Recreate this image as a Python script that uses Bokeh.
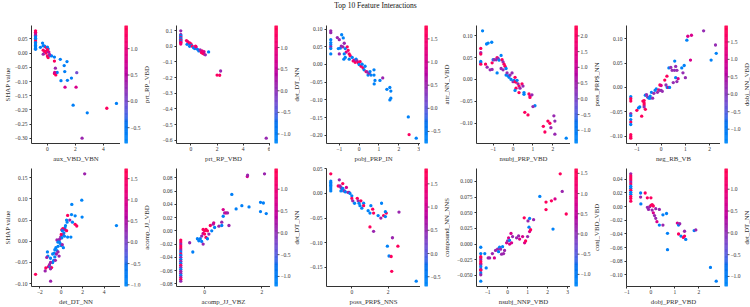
import math
import numpy as np
from bokeh.plotting import figure
from bokeh.models import (ColumnDataSource, LinearColorMapper, FixedTicker,
                          CustomJSTickFormatter, Range1d)
from bokeh.layouts import row, column
from bokeh.core.properties import value
from bokeh.embed import file_html
from bokeh.resources import INLINE

TITLE = "Top 10 Feature Interactions"

# (feature value, SHAP / interaction value, colouring feature value) per panel
P1 = [(-0.85, 0.078, 1.3), (-0.85, 0.073, 1.3), (-0.85, 0.067, 0.8), (-0.85, 0.062, 0.3),
      (-0.85, 0.057, -0.6), (-0.85, 0.052, -0.6), (-0.85, 0.047, -0.6), (-0.85, 0.042, 1.3),
      (-0.85, 0.037, -0.6), (-0.85, 0.032, -0.6), (-0.85, 0.027, -0.6), (-0.85, 0.022, -0.6),
      (-0.85, 0.017, -0.6), (-0.85, 0.013, -0.6),
      (-0.35, 0.035, -0.6), (-0.50, 0.020, -0.6), (-0.30, 0.026, -0.6), (-0.20, 0.024, -0.6),
      (-0.10, 0.020, 1.3), (0.00, 0.021, -0.6), (0.05, 0.015, -0.6), (-0.30, 0.010, 1.3),
      (-0.20, 0.005, 1.3), (-0.10, 0.000, 1.3), (0.00, 0.006, -0.6), (-0.30, -0.004, 0.3),
      (-0.12, 0.006, 1.3), (0.10, 0.004, 0.8), (0.00, -0.010, 1.3), (0.05, -0.016, 1.3),
      (0.20, -0.009, -0.6), (0.30, -0.010, -0.6), (0.50, -0.014, -0.6), (0.00, 0.012, 1.3),
      (0.15, -0.005, 0.3),
      (0.50, -0.028, 1.3), (0.92, -0.022, -0.6), (1.20, -0.044, -0.6), (1.40, -0.030, -0.6),
      (0.57, -0.053, 0.3), (0.50, -0.072, 1.3), (0.60, -0.077, 1.3), (0.70, -0.068, -0.6),
      (0.52, -0.068, 0.8), (1.24, -0.065, -0.6), (2.10, -0.069, 0.0), (1.72, -0.088, -0.6),
      (0.97, -0.097, -0.6), (1.43, -0.096, -0.6), (1.26, -0.120, 0.8), (2.05, -0.120, 0.8),
      (1.84, -0.183, -0.6), (2.85, -0.210, -0.6), (4.25, -0.194, 1.3), (4.94, -0.177, -0.6),
      (2.48, -0.299, 0.3)]

P2 = [(-0.78, 0.098, 0.1), (-0.78, 0.075, 0.1), (-0.78, 0.068, -1.0), (-0.78, 0.062, -1.0),
      (-0.78, 0.056, 1.0), (-0.78, 0.050, -1.0), (-0.78, 0.044, -1.0), (-0.78, 0.038, 1.3),
      (-0.78, 0.032, -1.0), (-0.78, 0.026, 1.0), (-0.78, 0.020, 1.3), (-0.78, 0.014, 1.0),
      (-0.34, 0.036, 1.3), (-0.25, 0.030, 1.0), (-0.20, 0.020, 1.3), (-0.30, 0.012, -1.0),
      (-0.10, 0.021, 1.3), (-0.05, 0.010, -1.0), (0.00, 0.015, 1.3), (0.05, 0.005, -1.0),
      (-0.10, 0.000, -1.0), (0.10, 0.000, 1.3), (0.20, -0.010, -1.0), (0.30, -0.015, -1.0),
      (0.35, 0.001, 1.3), (0.40, -0.005, 1.0), (0.50, -0.020, -1.0), (0.60, -0.030, -1.0),
      (0.70, -0.024, 0.1), (0.80, -0.040, 1.3), (0.90, -0.045, 1.3), (1.00, -0.050, 1.3),
      (1.00, -0.035, 0.7), (1.10, -0.055, 0.1), (0.85, -0.030, 1.0), (1.35, -0.036, -1.0),
      (2.00, -0.184, 1.3), (2.20, -0.185, 1.3), (2.27, -0.158, 0.1), (5.76, -0.586, 0.1)]

P3 = [(-1.43, 0.095, 0.5), (-1.43, 0.090, 0.5), (-1.43, 0.070, -0.6), (-1.43, 0.062, -0.6),
      (-1.43, 0.056, -0.6), (-1.43, 0.050, 0.5), (-1.43, 0.045, -0.6), (-1.43, 0.030, -0.6),
      (-1.10, 0.076, 0.5), (-1.00, 0.070, 0.5), (-0.88, 0.084, -0.6), (-0.80, 0.075, -0.6),
      (-1.05, 0.045, -0.6), (-0.95, 0.046, -0.6), (-0.90, 0.052, 0.5), (-0.75, 0.060, 0.5),
      (-0.82, 0.050, 0.5), (-0.70, 0.045, -0.6), (-0.60, 0.050, 1.6), (-0.55, 0.040, 1.6),
      (-0.65, 0.035, 1.1), (-1.00, 0.030, 0.5), (-0.75, 0.030, -0.6), (-0.70, 0.020, -0.6),
      (-0.77, 0.015, -0.6), (-0.50, 0.030, 1.6), (-0.45, 0.025, 1.6), (-0.50, 0.015, -0.6),
      (-0.35, 0.020, -0.6), (-0.30, 0.010, 1.6), (-0.25, 0.012, 1.1), (-0.20, 0.006, 1.6),
      (-0.15, 0.015, -0.6), (-0.10, 0.010, 0.5), (-0.05, 0.005, 1.6), (0.00, 0.000, -0.6),
      (0.05, 0.008, 1.6), (0.10, -0.005, 1.6), (0.15, 0.001, -0.6), (0.20, -0.010, 1.6),
      (0.25, -0.015, -0.6), (0.30, -0.005, -0.6), (0.35, -0.020, 1.6), (0.40, -0.021, 0.5),
      (0.45, -0.030, -0.6), (0.50, -0.025, 0.5), (0.55, -0.020, -0.6), (0.60, -0.030, -0.6),
      (0.75, -0.015, -0.6), (0.75, -0.030, -0.6), (0.80, -0.045, -0.6), (0.76, -0.055, -0.6),
      (1.05, -0.045, -0.6), (1.19, -0.038, 0.5), (1.40, -0.070, -0.6), (1.55, -0.065, -0.6),
      (1.60, -0.075, -0.6), (1.55, -0.100, -0.6), (1.60, -0.095, -0.6), (2.48, -0.148, -0.6),
      (2.52, -0.198, 1.6), (2.88, -0.208, -0.6)]

P4 = [(-1.53, 0.111, -1.2), (-1.33, 0.081, -1.2), (-1.25, 0.083, -1.2), (-1.07, 0.085, -1.2),
      (-1.62, 0.071, 2.1), (-1.62, 0.061, 0.4), (-1.62, 0.058, 2.1), (-1.62, 0.041, -1.2),
      (-1.62, 0.038, -1.2), (-1.62, 0.035, 2.1),
      (-1.38, 0.035, 2.1), (-1.30, 0.028, 0.4), (-1.15, 0.022, 0.4), (-1.05, 0.023, 0.4),
      (-1.05, 0.038, 2.1), (-1.00, 0.045, -1.2), (-0.95, 0.045, 0.4), (-0.80, 0.050, 2.1),
      (-0.85, 0.045, 0.4), (-0.75, 0.048, 0.4), (-0.70, 0.044, -1.2), (-0.80, 0.015, -1.2),
      (-0.60, 0.055, -1.2), (-0.55, 0.045, 2.1), (-0.60, 0.025, 0.4), (-0.50, 0.022, 0.4),
      (-0.50, 0.040, 0.4), (-0.45, 0.035, 2.1), (-0.40, 0.030, 2.1), (-0.35, 0.025, -1.2),
      (-0.35, 0.010, -1.2), (-0.30, 0.015, 0.4), (-0.25, 0.008, -1.2), (-0.20, 0.005, -1.2),
      (-0.15, 0.010, 0.4), (-0.10, 0.000, -1.2), (-0.05, 0.015, 0.4), (0.00, -0.005, 0.4),
      (0.05, -0.002, -1.2), (0.10, -0.005, 2.1), (0.15, -0.006, 2.1), (0.10, 0.005, 2.1),
      (0.20, -0.002, -1.2), (0.25, -0.010, 0.4), (0.15, -0.020, 2.1), (0.10, -0.025, -1.2),
      (0.30, -0.015, 2.1), (0.30, -0.030, 2.1), (0.35, -0.020, 0.4), (0.45, -0.010, 2.1),
      (0.50, -0.015, 0.4), (0.55, -0.030, -1.2), (0.55, -0.034, -1.2), (0.80, -0.033, 2.1),
      (0.85, -0.038, 1.2), (0.85, -0.041, 2.1), (0.95, -0.035, 0.4), (1.10, -0.060, -1.2),
      (1.00, -0.062, 0.4), (0.59, -0.075, 2.1), (0.75, -0.081, 2.1), (1.52, -0.107, 2.1),
      (1.60, -0.120, 2.1), (1.75, -0.095, 2.1), (1.85, -0.100, 2.1), (1.90, -0.110, 0.4),
      (2.05, -0.083, 0.4), (2.10, -0.095, 0.4), (2.10, -0.125, 0.4), (2.67, -0.134, -1.2)]

P5 = [(-1.25, -0.019, -1.2), (-1.25, -0.023, 1.8), (-1.25, -0.028, 1.8), (-1.25, -0.054, 0.2),
      (-1.25, -0.058, -1.2), (-1.25, -0.066, -1.2), (-1.25, -0.071, 1.8), (-1.25, -0.076, -1.2),
      (-1.25, -0.097, 1.8), (-1.25, -0.101, 1.8), (-1.25, -0.104, 1.8),
      (-0.93, -0.042, -1.2), (-0.88, -0.040, -1.2), (-1.00, -0.047, 1.8), (-0.80, -0.059, 1.8),
      (-0.75, -0.028, 1.8), (-0.70, -0.027, 1.8), (-0.70, -0.032, 1.8), (-0.70, -0.036, 1.8),
      (-0.70, -0.040, 0.2), (-0.65, -0.045, 1.8), (-0.65, -0.016, -1.2), (-0.60, -0.015, 0.2),
      (-0.55, -0.020, 0.2), (-0.50, -0.022, -1.2), (-0.45, -0.022, -1.2), (-0.45, -0.018, -1.2),
      (-0.40, -0.010, -1.2), (-0.35, -0.022, 0.2), (-0.30, -0.012, 0.2), (-0.25, -0.006, -1.2),
      (-0.20, -0.003, -1.2), (-0.15, -0.010, 0.2), (-0.10, -0.005, 1.8), (-0.05, 0.005, 1.8),
      (0.00, 0.004, 1.0), (-0.05, -0.006, 0.2), (0.00, -0.006, 0.2), (0.05, -0.008, 0.2),
      (0.15, 0.015, 1.8), (0.20, 0.005, 0.2), (0.25, 0.000, -1.2), (0.24, 0.023, 1.8),
      (0.30, 0.000, 1.0), (0.35, 0.000, -1.2), (0.32, 0.040, -1.2), (0.40, 0.041, 0.2),
      (0.45, 0.035, 0.2), (0.50, 0.010, 0.2), (0.56, 0.054, -1.2), (0.55, 0.035, 0.2),
      (0.60, 0.043, 0.2), (0.65, 0.035, 0.2), (0.60, 0.020, -1.2), (0.65, 0.012, 0.2),
      (0.70, 0.018, 1.0), (0.85, 0.040, -1.2), (0.90, 0.030, 0.2), (0.95, 0.045, -1.2),
      (1.00, 0.020, 0.2), (1.06, 0.097, -1.2), (1.10, 0.105, 1.0), (1.25, 0.107, 1.0),
      (1.21, 0.056, 1.0), (1.75, 0.116, 0.2), (2.24, 0.087, 0.2), (2.27, 0.070, -1.2),
      (2.06, 0.056, -1.2)]

P6 = [(2.19, 0.159, 0.35), (0.99, 0.087, -0.9), (1.92, 0.097, -0.9), (0.96, 0.063, -0.9),
      (1.30, 0.060, -0.9), (1.95, 0.057, -0.9), (0.60, 0.061, 1.6), (0.80, 0.050, 0.35),
      (0.50, 0.050, -0.9), (1.30, 0.040, 1.6), (1.45, 0.036, 1.6), (1.05, 0.045, -0.9),
      (0.55, 0.045, -0.9), (0.40, 0.037, -0.9), (0.35, 0.032, -0.9), (0.30, 0.028, 0.35),
      (0.15, 0.030, 1.6), (0.05, 0.027, 1.0), (0.10, 0.025, -0.9), (0.25, 0.020, -0.9),
      (0.50, 0.025, 1.6), (0.20, 0.015, 0.35), (0.10, 0.015, -0.9), (0.00, 0.016, 1.6),
      (-0.05, 0.010, 0.35), (0.05, 0.008, -0.9), (0.30, 0.012, -0.9), (0.60, 0.010, -0.9),
      (0.90, 0.010, -0.9), (-0.40, 0.003, 0.35), (-0.30, -0.002, -0.9), (-0.20, 0.000, -0.9),
      (-0.15, 0.005, 0.35), (-0.10, -0.005, -0.9), (0.00, -0.010, -0.9), (0.10, -0.008, 0.35),
      (0.20, -0.015, -0.9), (-0.30, -0.012, -0.9), (-0.50, -0.015, -0.9), (-0.60, -0.020, -0.9),
      (-0.40, -0.022, -0.9), (-0.80, -0.030, -0.9), (-0.65, -0.028, -0.9), (-0.45, -0.030, 0.35),
      (-0.30, -0.025, 0.35), (-0.20, -0.035, 0.35), (-1.29, -0.025, -0.9), (-1.25, -0.035, -0.9),
      (-1.35, -0.038, 0.35), (-1.00, -0.040, -0.9), (-0.70, -0.045, -0.9), (-0.55, -0.045, 0.35),
      (-0.60, -0.037, -0.9), (-0.80, -0.050, -0.9), (-1.00, -0.050, 0.35), (-1.20, -0.060, 1.0),
      (-1.05, -0.060, -0.9), (-1.10, -0.055, 0.35), (-0.90, -0.062, 1.6), (-1.00, -0.065, 0.35),
      (-1.44, -0.063, 1.6), (-1.50, -0.070, 0.35), (-2.40, -0.078, 1.6), (-0.99, -0.094, 0.35),
      (5.16, 0.037, -0.9)]

P7 = [(-0.83, -0.014, 1.3), (-0.83, -0.017, 1.3), (-0.83, -0.020, 0.1), (-0.83, -0.023, 1.3),
      (-0.83, -0.026, 1.3), (-0.83, -0.029, 0.1), (-0.83, -0.032, -1.0), (-0.83, -0.035, 1.3),
      (-0.83, -0.037, -1.0), (-0.83, -0.040, 0.1), (-0.83, -0.043, -1.0), (-0.83, -0.046, 0.1),
      (-0.83, -0.049, -1.0), (-0.83, -0.052, 1.3), (-0.83, -0.055, 0.1), (-0.83, -0.058, -1.0),
      (-0.83, -0.061, 0.1), (-0.83, -0.064, 0.1), (-0.83, -0.067, -1.0), (-0.83, -0.070, 0.1),
      (-0.83, -0.073, 1.3), (-0.83, -0.076, 0.1),
      (-0.41, -0.032, -1.0), (-0.52, -0.018, 0.1), (-0.25, -0.012, -1.0), (-0.20, -0.015, -1.0),
      (-0.15, -0.012, -1.0), (-0.10, -0.016, -1.0), (-0.05, -0.020, 0.1), (-0.10, -0.008, 0.1),
      (-0.05, -0.004, 0.7), (0.00, 0.000, 1.3), (-0.05, 0.002, 1.3), (0.00, -0.005, 1.3),
      (0.05, 0.002, 1.3), (0.10, 0.000, 1.3), (0.05, -0.010, 1.3), (0.15, -0.005, 0.1),
      (0.10, -0.012, -1.0), (0.20, 0.008, 1.3), (0.25, 0.000, -1.0), (0.30, 0.010, 0.1),
      (0.32, 0.012, 0.7), (0.35, 0.005, -1.0), (0.50, 0.007, 0.1), (0.60, 0.008, -1.0),
      (0.60, 0.013, 0.1), (0.65, 0.022, -1.0), (0.70, 0.027, 0.1), (0.65, 0.032, 0.7),
      (0.75, 0.027, 0.7), (0.80, 0.027, 0.1), (0.85, 0.008, 0.1), (0.95, 0.055, -1.0),
      (1.10, 0.033, -1.0), (1.30, 0.038, -1.0), (1.55, 0.036, -1.0), (1.95, 0.043, -1.0),
      (2.05, 0.042, -1.0), (1.95, 0.029, -1.0), (2.15, 0.026, -1.0), (1.49, 0.082, 0.7),
      (1.50, 0.084, 0.1), (2.09, 0.086, 0.1)]

P8 = [(-1.16, 0.0396, 1.7), (-1.16, 0.025, -0.55), (-1.16, 0.022, -0.55), (-1.16, 0.019, -0.55),
      (-1.16, 0.016, -0.55), (-1.16, 0.013, -0.55), (-1.16, 0.009, -0.55), (-1.16, 0.005, -0.55),
      (-0.69, 0.0275, 0.55), (-0.75, 0.015, 1.7), (-0.65, 0.015, 0.55), (-0.60, 0.012, 0.55),
      (-0.55, 0.010, 0.55), (-0.60, 0.005, -0.55), (-0.50, 0.010, -0.55), (-0.45, 0.005, -0.55),
      (-0.50, 0.020, 1.7), (-0.40, 0.005, 0.55), (-0.30, 0.012, 1.1), (-0.35, 0.003, -0.55),
      (-0.20, 0.002, 0.55), (-0.15, 0.002, 0.55), (-0.10, 0.000, -0.55), (0.00, -0.005, -0.55),
      (0.00, -0.010, 1.7), (0.05, -0.015, 0.55), (0.15, -0.020, -0.55), (0.30, -0.010, 1.7),
      (0.35, -0.015, 0.55), (0.40, -0.020, -0.55), (0.50, -0.015, 1.7), (0.45, -0.025, -0.55),
      (0.55, -0.030, -0.55), (0.65, -0.020, -0.55), (0.65, -0.025, 1.7), (0.90, -0.035, -0.55),
      (1.00, -0.040, -0.55), (1.05, -0.025, -0.55), (1.15, -0.032, 1.7), (1.20, -0.040, 1.7),
      (1.45, -0.045, -0.55), (1.60, -0.050, 0.55), (1.64, -0.020, -0.55), (1.75, -0.045, 1.7),
      (1.90, -0.040, 1.7), (1.85, -0.037, -0.55), (1.85, -0.047, -0.55), (2.60, -0.038, 0.55),
      (1.00, -0.068, 1.7), (1.20, -0.077, 0.55), (2.24, -0.090, 0.55), (1.96, -0.107, -0.55),
      (2.54, -0.107, 1.7), (2.05, -0.127, -0.55), (2.17, -0.128, 1.7), (2.20, -0.158, 1.7),
      (3.55, -0.178, -0.55)]

P9 = [(-1.34, -0.005, -1.1), (-1.34, -0.015, -1.1), (-1.34, -0.020, 1.45), (-1.34, -0.022, 1.45),
      (-1.34, -0.025, 0.15), (-1.34, -0.028, 1.45), (-1.34, -0.031, 1.45), (-1.34, -0.033, 0.15),
      (-1.34, -0.036, -1.1), (-1.34, -0.040, 0.15), (-1.34, -0.042, 1.45), (-1.34, -0.046, -1.1),
      (-1.34, -0.049, 0.15), (-1.34, -0.059, -1.1),
      (-1.07, -0.038, -1.1), (-1.14, -0.015, -1.1), (-0.97, -0.022, 0.15), (-0.90, -0.022, 0.15),
      (-0.76, -0.015, 0.15), (-0.60, -0.010, 0.15), (-0.66, -0.022, 0.8), (-0.50, -0.008, 0.15),
      (-0.45, -0.012, -1.1), (-0.40, -0.005, -1.1), (-0.35, -0.008, 0.15), (-0.30, -0.016, 0.15),
      (-0.25, -0.004, -1.1), (-0.20, -0.015, 0.15), (-0.15, -0.010, 0.15), (-0.05, 0.002, 0.8),
      (0.00, 0.005, 0.15), (0.05, 0.010, 0.8), (0.10, 0.006, -1.1), (0.10, 0.000, 0.8),
      (0.20, 0.002, 0.8), (0.25, 0.012, 0.15), (0.17, 0.017, 0.8), (0.45, 0.010, 0.15),
      (0.55, 0.013, 0.15), (0.60, 0.008, 0.8), (0.75, 0.012, 0.8), (0.85, 0.002, 0.8),
      (0.90, 0.005, 1.45), (0.83, 0.042, 1.45), (1.02, 0.037, 0.15), (1.00, 0.012, 0.15),
      (1.10, 0.020, 0.8), (1.07, 0.027, -1.1), (1.10, 0.041, -1.1), (1.30, 0.039, 0.15),
      (1.15, 0.023, 1.45), (1.61, 0.076, -1.1), (1.92, 0.067, 1.45), (1.92, 0.055, 1.45),
      (2.19, 0.069, 1.45), (2.37, 0.072, 0.8), (2.63, 0.112, 1.45), (2.73, 0.084, 0.15),
      (2.93, 0.048, 1.45), (2.27, 0.024, -1.1)]

P10 = [(-0.84, 0.048, 0.1), (-0.84, 0.045, 1.3), (-0.84, 0.042, 1.3), (-0.84, 0.039, 1.3),
       (-0.84, 0.036, 0.1), (-0.84, 0.033, 1.3), (-0.84, 0.030, -1.0), (-0.84, 0.027, -1.0),
       (-0.84, 0.024, 1.3), (-0.84, 0.021, -1.0), (-0.84, 0.018, -1.0), (-0.84, 0.015, 1.3),
       (-0.84, 0.012, 1.3), (-0.84, 0.008, 1.3),
       (-0.43, 0.020, -1.0), (-0.43, 0.014, 0.1), (-0.42, 0.004, -1.0), (-0.24, 0.020, 1.3),
       (-0.15, 0.013, 1.3), (0.00, 0.013, 1.3), (-0.15, -0.001, 0.1), (-0.10, -0.004, 0.1),
       (-0.05, 0.000, 0.1), (0.00, 0.002, 1.3), (0.05, 0.003, 1.3), (0.10, 0.001, 1.3),
       (0.05, -0.005, 0.1), (0.10, -0.009, 0.7), (0.15, -0.013, 0.1), (0.20, -0.017, 0.1),
       (0.25, -0.022, 0.7), (0.20, -0.003, 0.1), (0.35, -0.004, 0.1), (0.35, -0.027, -1.0),
       (0.50, -0.012, -1.0), (0.50, -0.027, 0.1), (0.65, -0.010, -1.0), (0.69, -0.039, -1.0),
       (0.69, -0.063, -1.0), (1.10, -0.024, 0.7), (1.15, -0.027, -1.0), (1.20, -0.025, 0.1),
       (1.15, -0.040, 1.3), (1.25, -0.043, -1.0), (1.35, -0.045, 1.3), (1.40, -0.043, 1.3),
       (1.40, -0.036, 0.1), (1.45, -0.048, -1.0), (1.80, -0.035, -1.0), (1.87, -0.034, 0.1),
       (2.48, -0.089, -1.0), (2.72, -0.109, -1.0)]

X_LABELS = ["aux_VBD_VBN", "prt_RP_VBD", "pobj_PRP_IN", "nsubj_PRP_VBD", "neg_RB_VB",
            "det_DT_NN", "acomp_JJ_VBZ", "poss_PRP$_NNS", "nsubj_NNP_VBD", "dobj_PRP_VBD"]
COLOR_LABELS = ["prt_RP_VBD", "det_DT_NN", "attr_NN_VBD", "poss_PRP$_NN", "dobj_NN_VBD",
                "acomp_JJ_VBD", "det_DT_NN", "compound_NN_NNS", "conj_VBD_VBD", "det_DT_NN"]
Y_LABEL = "SHAP value"

X_TICKS = [[0, 2, 4], [0, 2, 4, 6], [-1, 0, 1, 2, 3], [-1, 0, 1, 2], [-1, 0, 1, 2],
           [-2, 0, 2, 4], [0, 2], [0, 2], [-1, 0, 1, 2, 3], [-1, 0, 1, 2]]
Y_TICKS = [[-0.30, -0.25, -0.20, -0.15, -0.10, -0.05, 0.00, 0.05],
           [-0.6, -0.5, -0.4, -0.3, -0.2, -0.1, 0.0, 0.1],
           [-0.20, -0.15, -0.10, -0.05, 0.00, 0.05, 0.10],
           [-0.10, -0.05, 0.00, 0.05, 0.10],
           [-0.10, -0.05, 0.00, 0.05, 0.10],
           [-0.10, -0.05, 0.00, 0.05, 0.10, 0.15],
           [-0.08, -0.06, -0.04, -0.02, 0.00, 0.02, 0.04, 0.06, 0.08],
           [-0.15, -0.10, -0.05, 0.00, 0.05],
           [-0.050, -0.025, 0.000, 0.025, 0.050, 0.075, 0.100],
           [-0.10, -0.08, -0.06, -0.04, -0.02, 0.00, 0.02, 0.04]]
Y_DECIMALS = [2, 1, 2, 2, 2, 2, 2, 2, 3, 2]
COLOR_TICKS = [[-0.5, 0.0, 0.5, 1.0], [-1.0, -0.5, 0.0, 0.5, 1.0],
               [-0.5, 0.0, 0.5, 1.0, 1.5], [-1.0, -0.5, 0.0, 0.5, 1.0, 1.5, 2.0],
               [-1.0, -0.5, 0.0, 0.5, 1.0, 1.5], [-1.0, -0.5, 0.0, 0.5, 1.0, 1.5],
               [-1.0, -0.5, 0.0, 0.5, 1.0], [-0.5, 0.0, 0.5, 1.0, 1.5],
               [-1.0, -0.5, 0.0, 0.5, 1.0, 1.5], [-1.0, -0.5, 0.0, 0.5, 1.0]]
# colour scale limits (5th / 95th percentile of each colouring feature)
COLOR_LIMITS = [(-0.80, 1.44), (-1.22, 1.51), (-0.76, 1.79), (-1.42, 2.33), (-1.41, 1.97),
                (-1.04, 1.74), (-1.23, 1.475), (-0.71, 1.83), (-1.30, 1.62), (-1.23, 1.475)]
PANEL_DATA = [P1, P2, P3, P4, P5, P6, P7, P8, P9, P10]

FONT = "Liberation Serif"
INK = "#333333"
TICK_SIZE = "5.5px"
LABEL_SIZE = "6.8px"
FRAME_H = 118
BOTTOM = 21
ROW_TOP = [13, 4]
TITLE_H = 12


def lch_to_hex(l, c, h):
    a, b = c * math.cos(h), c * math.sin(h)
    fy = (l + 16.0) / 116.0
    fx, fz = fy + a / 500.0, fy - b / 200.0

    def finv(t):
        return t ** 3 if t ** 3 > 0.008856 else (t - 16.0 / 116.0) / 7.787

    X, Y, Z = 0.95047 * finv(fx), finv(fy), 1.08883 * finv(fz)
    lin = [3.2406 * X - 1.5372 * Y - 0.4986 * Z,
           -0.9689 * X + 1.8758 * Y + 0.0415 * Z,
           0.0557 * X - 0.2040 * Y + 1.0570 * Z]
    out = []
    for v in lin:
        v = 12.92 * v if v <= 0.0031308 else 1.055 * v ** (1 / 2.4) - 0.055
        out.append(int(round(min(max(v, 0.0), 1.0) * 255)))
    return "#%02x%02x%02x" % tuple(out)


def red_blue(n=100):
    # blue -> purple -> red ramp interpolated in LCH space
    blue = (54.0, 70.0, 4.6588)
    red = (54.0, 90.0, 0.35470565 + 2 * math.pi)
    ls = list(np.linspace(blue[0], 40.0, n // 2)) + list(np.linspace(40.0, red[0], n // 2))
    cs = np.linspace(blue[1], red[1], n)
    hs = np.linspace(blue[2], red[2], n)
    return [lch_to_hex(l, c, h) for l, c, h in zip(ls, cs, hs)]


PALETTE = red_blue()


def signed(v, decimals):
    s = f"{abs(v):.{decimals}f}"
    return "\u2212" + s if v < -1e-9 else s


def fixed_fmt(decimals):
    return CustomJSTickFormatter(args=dict(d=decimals), code="""
        const v = Math.abs(tick) < 1e-9 ? 0 : tick;
        return (v < 0 ? "\\u2212" : "") + Math.abs(v).toFixed(d);
    """)


def style_axis(ax, ticks, decimals, label, standoff):
    ax.ticker = FixedTicker(ticks=ticks)
    ax.formatter = fixed_fmt(decimals)
    ax.axis_line_color = INK
    ax.major_tick_line_color = INK
    ax.minor_tick_line_color = None
    ax.major_tick_in = 0
    ax.major_tick_out = 2
    ax.major_label_standoff = standoff
    ax.major_label_text_font = FONT
    ax.major_label_text_font_size = TICK_SIZE
    ax.major_label_text_color = INK
    ax.axis_label = label
    ax.axis_label_standoff = 1
    ax.axis_label_text_font = FONT
    ax.axis_label_text_font_size = LABEL_SIZE
    ax.axis_label_text_font_style = "normal"
    ax.axis_label_text_color = INK


def panel(i, top):
    lo, hi = COLOR_LIMITS[i]
    mapper = LinearColorMapper(palette=PALETTE, low=lo, high=hi)
    xs, ys, cs = zip(*PANEL_DATA[i])
    src = ColumnDataSource(dict(x=list(xs), y=list(ys), c=list(cs)))

    p = figure(width=120, frame_height=FRAME_H,
               min_border_left=26, min_border_right=0,
               min_border_top=top, min_border_bottom=BOTTOM,
               output_backend="svg", toolbar_location=None, tools="")
    p.scatter("x", "y", source=src, size=3.3, line_color=None,
              fill_color={"field": "c", "transform": mapper})
    p.grid.visible = False
    p.outline_line_color = None
    p.border_fill_color = "white"
    style_axis(p.xaxis[0], X_TICKS[i], 0, X_LABELS[i], 1)
    style_axis(p.yaxis[0], Y_TICKS[i], Y_DECIMALS[i], Y_LABEL if i % 5 == 0 else None, 2)

    # colour bar: stacked quads, tick marks and labels on a 1 unit = 1 px strip
    cb = figure(width=30, frame_height=FRAME_H,
                x_range=Range1d(0, 26), y_range=Range1d(lo, hi),
                min_border_left=4, min_border_right=0,
                min_border_top=top, min_border_bottom=BOTTOM,
                x_axis_location=None, y_axis_location=None,
                output_backend="svg", toolbar_location=None, tools="")
    cb.grid.visible = False
    cb.outline_line_color = None
    cb.border_fill_color = "white"
    edges = np.linspace(lo, hi, len(PALETTE) + 1)
    cb.quad(left=0, right=3, bottom=edges[:-1], top=edges[1:],
            fill_color=PALETTE, line_color=PALETTE, line_width=0.6)
    ticks = [t for t in COLOR_TICKS[i] if lo <= t <= hi]
    cb.segment(x0=3, x1=5, y0=ticks, y1=ticks, line_color=INK, line_width=0.8)
    cb.text(x=6, y=ticks, text=[signed(t, 1) for t in ticks],
            text_align="left", text_baseline="middle", text_font=value(FONT),
            text_font_size=TICK_SIZE, text_color=INK)
    cb.text(x=[21.5], y=[(lo + hi) / 2], text=[COLOR_LABELS[i]], angle=math.pi / 2,
            text_align="center", text_baseline="middle", text_font=value(FONT),
            text_font_size=LABEL_SIZE, text_color=INK)
    return [p, cb]


title_fig = figure(width=750, height=TITLE_H, x_range=Range1d(0, 1), y_range=Range1d(0, 1),
                   min_border=0, x_axis_location=None, y_axis_location=None,
                   output_backend="svg", toolbar_location=None, tools="")
title_fig.grid.visible = False
title_fig.outline_line_color = None
title_fig.text(x=[0.5], y=[0.55], text=[TITLE], text_align="center",
               text_baseline="middle", text_font=value(FONT),
               text_font_size="7.5px", text_color="#111111")

rows = []
for r in range(2):
    children = []
    for k in range(5):
        children.extend(panel(r * 5 + k, ROW_TOP[r]))
    rows.append(row(*children, spacing=0))

layout = column(title_fig, *rows, spacing=0)

with open("out.html", "w") as f:
    f.write(file_html(layout, INLINE))
